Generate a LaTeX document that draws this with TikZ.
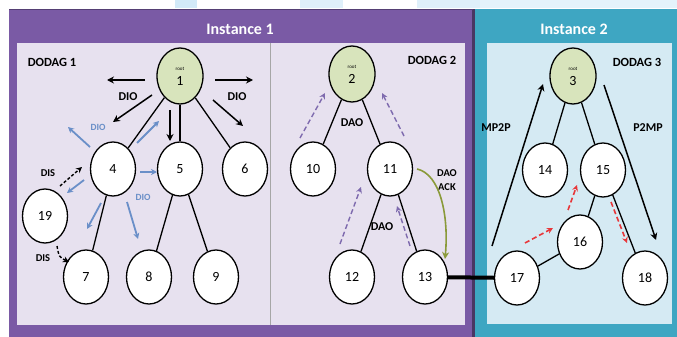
\documentclass[tikz,border=0pt]{standalone}
\usepackage{fontspec}
\setmainfont{Carlito}
\usetikzlibrary{shapes.geometric,arrows.meta}
\definecolor{pframe}{HTML}{7A5AA5}
\definecolor{pinner}{HTML}{E7E1EF}
\definecolor{tframe}{HTML}{3EA6C2}
\definecolor{tinner}{HTML}{D5EAF3}
\definecolor{rootgreen}{HTML}{D8E4BC}
\definecolor{dioblue}{HTML}{6A8FC8}
\definecolor{daopurple}{HTML}{7E6AAE}
\definecolor{reddash}{HTML}{E8373A}
\definecolor{ackgreen}{HTML}{8A9A3A}
\definecolor{topblue}{HTML}{D2EAF8}
\begin{document}
\begin{tikzpicture}[x=1pt,y=-1pt,
  nd/.style={ellipse,draw=black,line width=1.3pt,fill=white,minimum width=45pt,minimum height=54pt,inner sep=0pt,font=\fontsize{14}{14}\selectfont},
  rootnd/.style={nd,fill=rootgreen,minimum width=46pt,minimum height=56pt,align=center},
  edge/.style={line width=1.3pt,black},
  arr/.style={line width=1.5pt,black,-{Stealth[length=7pt,width=7pt]}},
  bluearr/.style={line width=1.8pt,dioblue,-{Stealth[length=6pt,width=6pt]}},
  disarr/.style={line width=1.4pt,black,dashed,dash pattern=on 3pt off 2pt,-{Stealth[length=6pt,width=6pt]}},
  daoarr/.style={line width=1.4pt,daopurple,dash pattern=on 5pt off 3pt,-{Stealth[length=6pt,width=6pt]}},
  redarr/.style={line width=1.6pt,reddash,dash pattern=on 5pt off 3pt,-{Stealth[length=6pt,width=6pt]}},
  lbl/.style={font=\fontsize{12}{12}\selectfont\bfseries,inner sep=0pt},
  bluelbl/.style={font=\fontsize{9.5}{10}\selectfont\bfseries,text=dioblue,inner sep=0pt},
  small/.style={font=\fontsize{10.5}{11}\selectfont\bfseries,inner sep=0pt},
  head/.style={font=\fontsize{16}{16}\selectfont\bfseries,text=white,inner sep=0pt}
]
\useasboundingbox (0,0) rectangle (677,337);
\fill[white] (0,0) rectangle (677,337);
% top strip patches
\fill[topblue] (175,0) rectangle (197,8);
\fill[topblue!70] (300,0) rectangle (343,8);
\fill[topblue!70] (417,0) rectangle (480,8);
\fill[topblue!60] (480,0) rectangle (677,8);
% frames
\fill[pframe] (9,9) rectangle (473,337);
\fill[pinner] (17,43) rectangle (465,325);
\fill[tframe] (475,9) rectangle (677,337);
\fill[tinner] (487,43) rectangle (672,324);
\fill[pframe!60!black] (472,9) rectangle (475,337);
\draw[pframe!70!black,line width=1pt] (9,9.5) -- (473,9.5);
\draw[black!35,line width=0.6pt] (270,43) -- (270,325);
% headers
\node[head] (h1) at (240,29) {Instance 1};
\node[head] (h2) at (574,29) {Instance 2};
\node[lbl,font=\fontsize{12.5}{13}\selectfont\bfseries] (d1) at (52,62) {DODAG 1};
\node[lbl,font=\fontsize{12.5}{13}\selectfont\bfseries] (d2) at (432,60) {DODAG 2};
\node[lbl,font=\fontsize{12.5}{13}\selectfont\bfseries] (d3) at (637,62) {DODAG 3};
% nodes
\node[rootnd] (n1) at (180,76) {{\fontsize{5}{5}\selectfont root}\\[1pt]1};
\node[rootnd] (n2) at (352,74) {{\fontsize{5}{5}\selectfont root}\\[1pt]2};
\node[rootnd] (n3) at (573,76) {{\fontsize{5}{5}\selectfont root}\\[1pt]3};
\node[nd] (n4) at (113,169) {4};
\node[nd] (n5) at (180,169) {5};
\node[nd] (n6) at (245,169) {6};
\node[nd] (n19) at (45,216) {19};
\node[nd] (n7) at (86,277) {7};
\node[nd] (n8) at (149,277) {8};
\node[nd] (n9) at (216,277) {9};
\node[nd] (n10) at (313,169) {10};
\node[nd] (n11) at (390,169) {11};
\node[nd] (n12) at (352,277) {12};
\node[nd] (n13) at (425,277) {13};
\node[nd] (n14) at (545,170) {14};
\node[nd] (n15) at (603,170) {15};
\node[nd] (n16) at (580,242) {16};
\node[nd] (n17) at (517,278) {17};
\node[nd] (n18) at (645,278) {18};
% tree edges
\draw[edge] (n1) -- (n4);
\draw[edge] (n1) -- (n5);
\draw[edge] (n1) -- (n6);
\draw[edge] (n4) -- (n7);
\draw[edge] (n5) -- (n8);
\draw[edge] (n5) -- (n9);
\draw[edge] (n2) -- (n10);
\draw[edge] (n2) -- (n11);
\draw[edge] (n11) -- (n12);
\draw[edge] (n11) -- (n13);
\draw[edge] (n3) -- (n14);
\draw[edge] (n3) -- (n15);
\draw[edge] (n15) -- (n16);
\draw[edge] (n16) -- (n17);
\draw[edge] (n15) -- (n18);
\draw[line width=4pt,black] (n13) -- (n17);
% DIO black arrows
\draw[arr] (145,80) -- (107,80);
\draw[arr] (215,80) -- (253,80);
\draw[arr] (152,95) -- (113,122);
\draw[arr] (170,110) -- (170,141);
\draw[arr] (213,100) -- (243,126);
\node[lbl] (dio1) at (128,97) {DIO};
\node[lbl] (dio2) at (237,97) {DIO};
% blue DIO arrows
\draw[bluearr] (90,147) -- (68,127);
\draw[bluearr] (137,143) -- (159,121);
\draw[bluearr] (140,172) -- (157,172);
\draw[bluearr] (101,203) -- (87,229);
\draw[bluearr] (127,202) -- (138,239);
\draw[bluearr] (84,180) -- (67,193);
\node[bluelbl] (bdio1) at (98,127) {DIO};
\node[bluelbl] (bdio2) at (143,197) {DIO};
% DIS arrows
\draw[disarr] (60,186) -- (82,167);
\draw[disarr] (57,246) .. controls (59,257) .. (69,262);
\node[small] (dis1) at (48,173) {DIS};
\node[small] (dis2) at (43,258) {DIS};
% DAO arrows
\draw[daoarr] (300,138) -- (325,93);
\draw[daoarr] (404,136) -- (382,93);
\draw[daoarr] (340,244) -- (361,187);
\draw[daoarr] (410,246) -- (397,206);
\node[lbl] (dao1) at (352,123) {DAO};
\node[lbl] (dao2) at (382,227) {DAO};
\node[small,align=center] (ack) at (447,180) {DAO\\[3pt]ACK};
\draw[line width=1.6pt,ackgreen,-{Stealth[length=7pt,width=7pt]}] (417,169) .. controls (440,174) and (449,215) .. (445,259);
% Instance 2 arrows
\draw[arr] (492,246) -- (543,84);
\draw[arr] (604,85) -- (656,240);
\node[lbl] (mp2p) at (496,128) {MP2P};
\node[lbl] (p2mp) at (648,128) {P2MP};
\draw[redarr] (525,243) -- (553,228);
\draw[redarr] (568,210) -- (577,185);
\draw[redarr] (611,202) -- (627,243);
\end{tikzpicture}
\end{document}
